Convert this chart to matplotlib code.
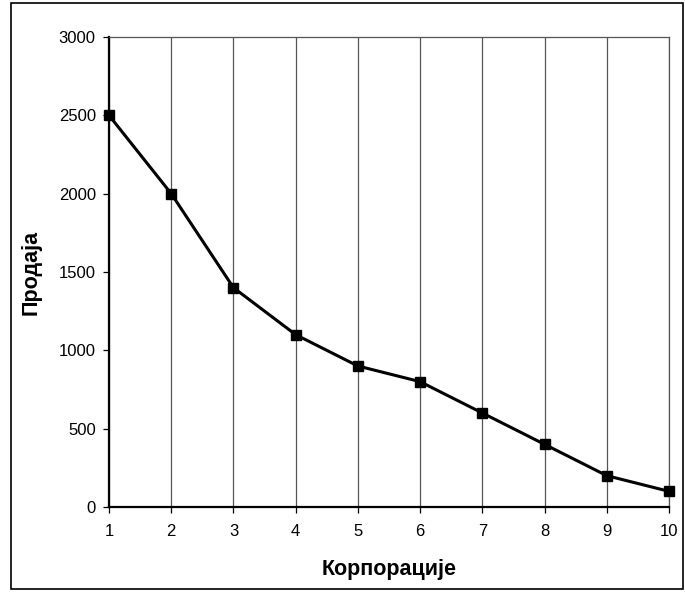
import matplotlib.pyplot as plt
from matplotlib.patches import Rectangle

plt.rcParams['font.family'] = ['Liberation Sans', 'DejaVu Sans']

corporations = [1, 2, 3, 4, 5, 6, 7, 8, 9, 10]
sales = [2500, 2000, 1400, 1100, 900, 800, 600, 400, 200, 100]

fig = plt.figure(figsize=(6.85, 5.92), dpi=100)
ax = fig.add_axes([109 / 685, 1 - 507 / 592, (669 - 109) / 685, (507 - 37) / 592])

# outer frame around the whole chart
fig.patches.append(Rectangle((11 / 685, 3 / 592), (683 - 11) / 685, (589 - 3) / 592,
                             transform=fig.transFigure, fill=False,
                             edgecolor='black', linewidth=1.2))

ax.plot(corporations, sales, color='black', lw=2.2, marker='s', markersize=6.5,
        clip_on=False, zorder=3)

ax.set_xlim(1, 10)
ax.set_ylim(0, 3000)
ax.set_xticks(corporations)
ax.set_yticks(range(0, 3001, 500))
ax.grid(axis='x', color='#555555', lw=0.9)

for side in ['top', 'right']:
    ax.spines[side].set_color('#555555')
    ax.spines[side].set_linewidth(0.9)
for side in ['left', 'bottom']:
    ax.spines[side].set_linewidth(1.6)

ax.tick_params(direction='out', length=4.5, width=0.9, labelsize=12, pad=5, colors='black')
ax.tick_params(axis='x', pad=8)

ax.set_xlabel('Корпорације', fontsize=15.5, fontweight='bold', labelpad=14)
ax.set_ylabel('Продаја', fontsize=15.5, fontweight='bold', labelpad=12)

fig.savefig('out.png', dpi=100)
